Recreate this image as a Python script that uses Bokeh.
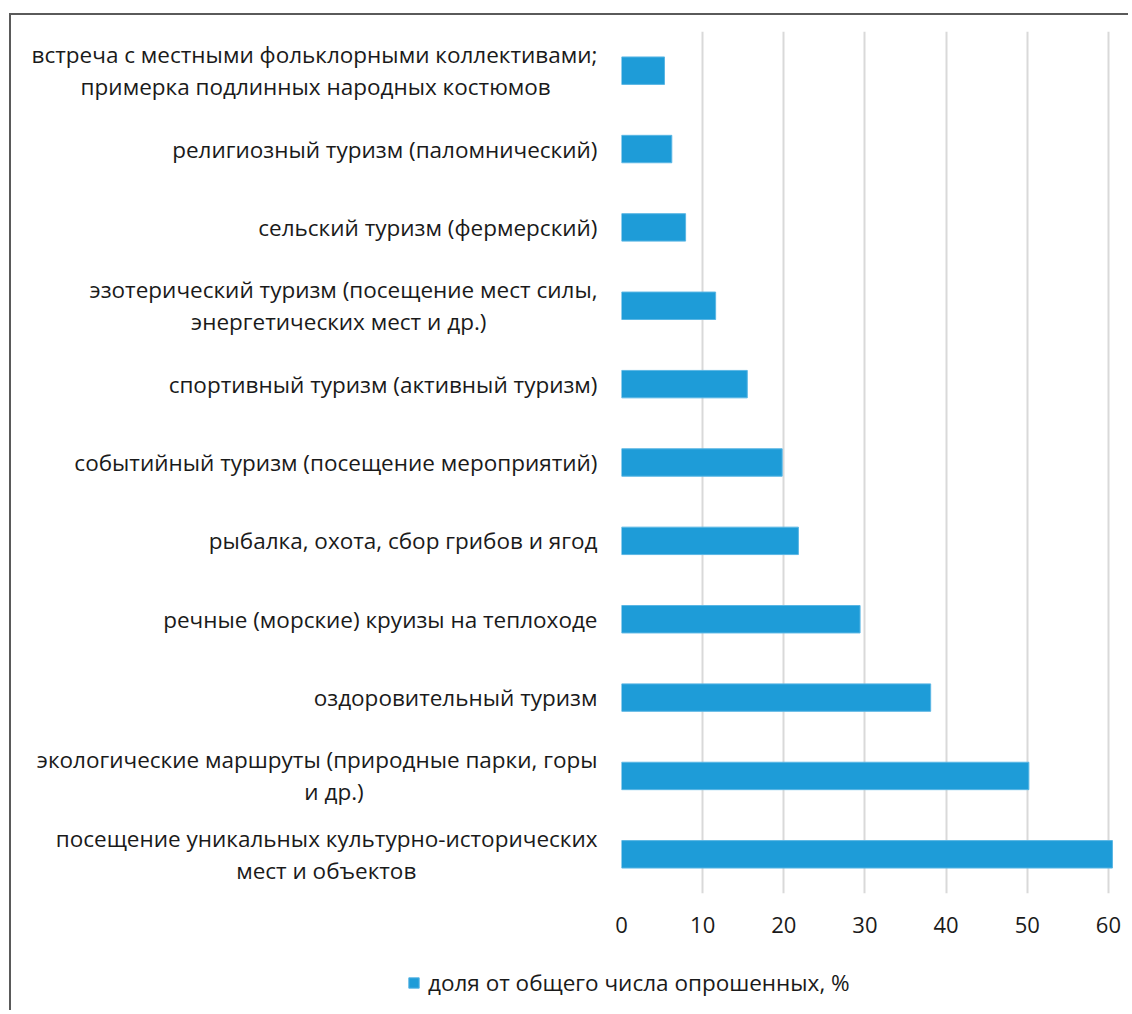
from bokeh.plotting import figure
from bokeh.models import FactorRange, Range1d, Legend, LegendItem, FixedTicker
from bokeh.embed import file_html
from bokeh.resources import INLINE

categories = [
    "встреча с местными фольклорными коллективами;\nпримерка подлинных народных костюмов",
    "религиозный туризм (паломнический)",
    "сельский туризм (фермерский)",
    "эзотерический туризм (посещение мест силы,\nэнергетических мест и др.)",
    "спортивный туризм (активный туризм)",
    "событийный туризм (посещение мероприятий)",
    "рыбалка, охота, сбор грибов и ягод",
    "речные (морские) круизы на теплоходе",
    "оздоровительный туризм",
    "экологические маршруты (природные парки, горы\nи др.)",
    "посещение уникальных культурно-исторических\nмест и объектов",
]
values = [5.3, 6.2, 7.9, 11.6, 15.5, 19.8, 21.8, 29.4, 38.1, 50.2, 60.5]
x_ticks = [0, 10, 20, 30, 40, 50, 60]
series_name = "доля от общего числа опрошенных, %"

# trailing non-breaking spaces so that second lines sit centred under the first
second_line_pad = {0: 8, 3: 19, 9: 40, 10: 31}
factors = [c + "\u00a0" * second_line_pad.get(i, 0) for i, c in enumerate(categories)]

FONT = "Open Sans"
TXT = "#1a1a1a"
BAR = "#1e9cd8"
BAR_LINE = "#5ab6e4"
FRAME = "2px solid #5a5a5a"

p = figure(
    width=1119, height=940,
    y_range=FactorRange(factors=list(reversed(factors)), range_padding=0),
    x_range=Range1d(0, 61),
    output_backend="svg", toolbar_location=None,
    min_border_left=610, min_border_right=14, min_border_top=16, min_border_bottom=62,
    styles={"margin-left": "9px", "margin-top": "13px",
            "border-left": FRAME, "border-top": FRAME},
)
p.outline_line_color = None

r = p.hbar(y=factors, right=values, left=0, height=0.35,
           fill_color=BAR, line_color=BAR_LINE, line_width=1)

p.xaxis.ticker = FixedTicker(ticks=x_ticks)
p.xaxis.axis_line_color = None
p.xaxis.major_tick_line_color = None
p.xaxis.minor_tick_line_color = None
p.xaxis.major_label_standoff = 17
p.xaxis.major_label_text_font = FONT
p.xaxis.major_label_text_font_size = "22px"
p.xaxis.major_label_text_color = TXT

p.yaxis.axis_line_color = None
p.yaxis.major_tick_line_color = None
p.yaxis.major_tick_out = 0
p.yaxis.major_label_standoff = 24
p.yaxis.major_label_text_font = FONT
p.yaxis.major_label_text_font_size = "22.5px"
p.yaxis.major_label_text_color = TXT
p.yaxis.major_label_text_line_height = 1.03

p.ygrid.grid_line_color = None
p.xgrid.ticker = FixedTicker(ticks=x_ticks)
p.xgrid.grid_line_color = "#d9d9d9"
p.xgrid.grid_line_width = 2

# legend strip below the chart (separate root, so its frame is not aligned to the chart's)
# same series drawn here outside the visible x window, only to feed the legend swatch
pl = figure(width=1119, height=57, x_range=Range1d(1000, 1001), y_range=Range1d(0, 1),
            x_axis_type=None, y_axis_type=None,
            output_backend="svg", toolbar_location=None, min_border=0,
            styles={"display": "block", "margin-left": "9px", "border-left": FRAME})
pl.outline_line_color = None
pl.grid.visible = False
lr = pl.hbar(y=list(range(len(values))), right=values, left=0, height=0.35,
             fill_color=BAR, line_color=BAR_LINE, line_width=1)
legend = Legend(items=[LegendItem(label=series_name, renderers=[lr])],
                location=(396, 12), orientation="horizontal",
                label_text_font=FONT, label_text_font_size="22.5px", label_text_color=TXT,
                glyph_width=13, glyph_height=13, border_line_color=None,
                background_fill_alpha=0, padding=0, margin=0, label_standoff=8)
pl.add_layout(legend, "center")

open("out.html", "w").write(file_html([p, pl], INLINE))
